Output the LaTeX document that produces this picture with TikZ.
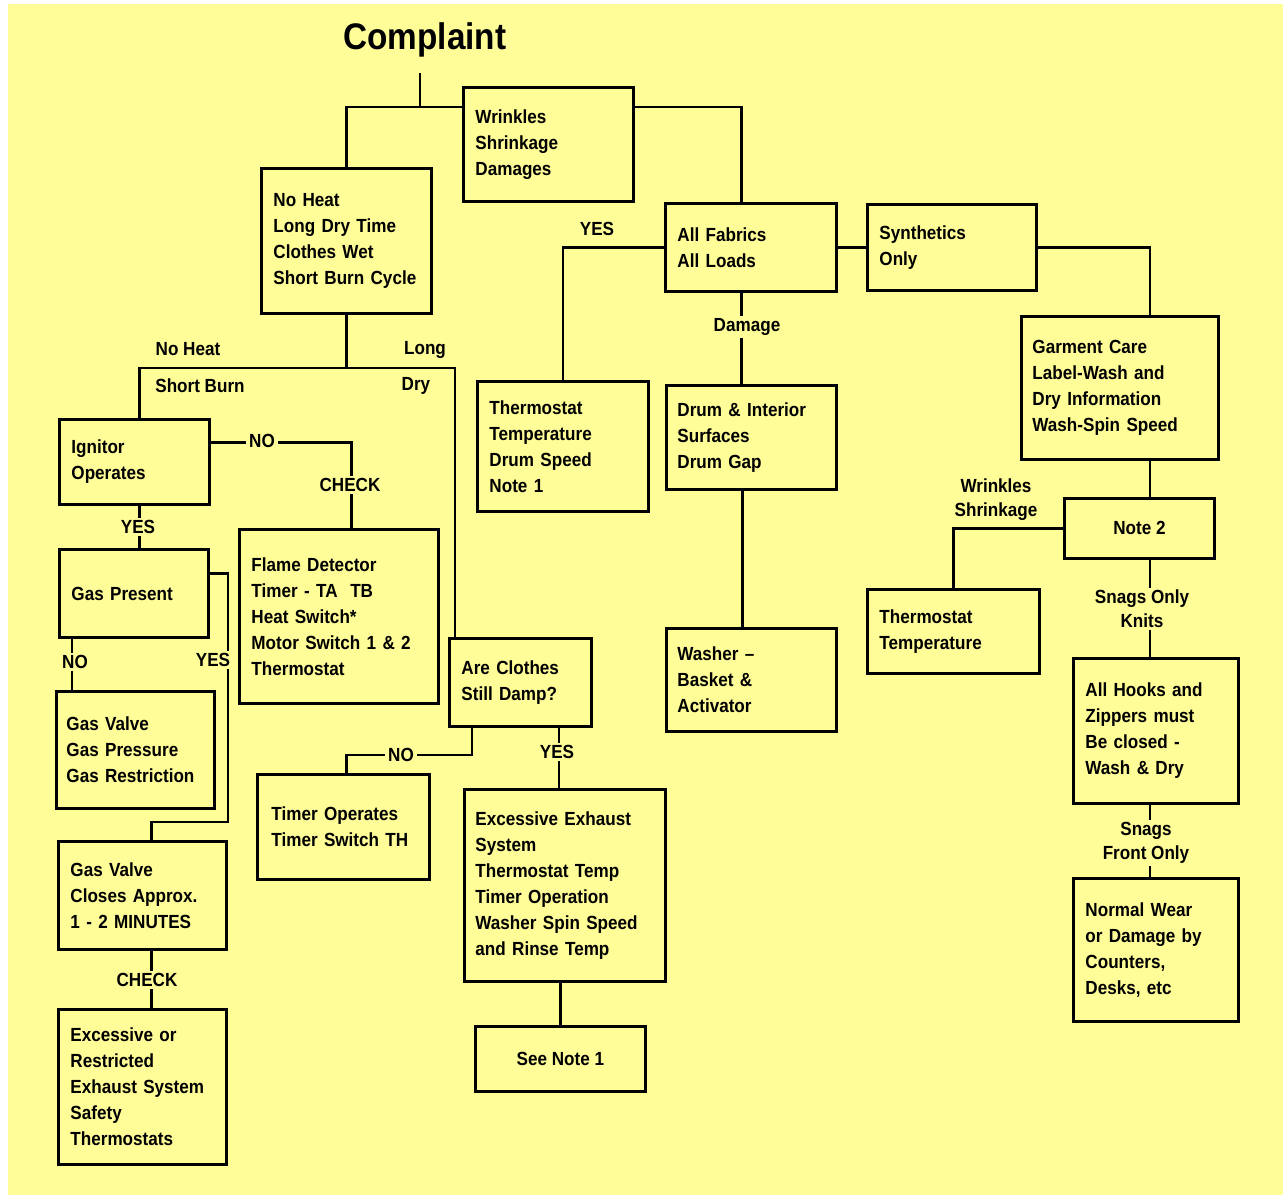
\documentclass[tikz,border=0pt]{standalone}
\usepackage{fontspec}
\setmainfont{Liberation Sans}[FakeStretch=0.9]
\usetikzlibrary{calc}
\definecolor{bg}{RGB}{255,253,152}
\begin{document}
\begin{tikzpicture}[x=1pt,y=-1pt,
  box/.style={draw, line width=2.9pt, anchor=north west, inner xsep=12pt, inner ysep=0pt, align=left, font=\fontsize{19}{26}\selectfont\bfseries},
  cbox/.style={draw, line width=2.9pt, anchor=north west, inner sep=0pt, align=center, font=\fontsize{19}{26}\selectfont\bfseries},
  lbl/.style={fill=bg, inner xsep=3pt, inner ysep=2pt, align=center, font=\fontsize{19}{24}\selectfont\bfseries},
  conn/.style={line width=2.9pt}]
\fill[white] (0,0) rectangle (1285,1197);
\fill[bg] (8,4) rectangle (1283,1195);
\useasboundingbox (0,0) rectangle (1285,1197);

\node[font=\fontsize{37}{42}\selectfont\bfseries] (cp) at (425,40) {Complaint};

\node[box, text width=146pt, minimum height=114pt] (wr) at (462,86) {Wrinkles\\Shrinkage\\Damages};
\node[box, text width=146pt, minimum height=145pt] (nh) at (260,167) {No Heat\\Long Dry Time\\Clothes Wet\\Short Burn Cycle};
\node[box, text width=126pt, minimum height=85pt] (ig) at (58,418) {Ignitor\\Operates};
\node[box, text width=175pt, minimum height=174pt] (fl) at (238,528) {Flame Detector\\Timer - TA\ \ TB\\Heat Switch*\\Motor Switch 1 \& 2\\Thermostat};
\node[box, text width=125pt, minimum height=88pt] (gp) at (58,548) {Gas Present};
\node[box, inner xsep=10pt, text width=138pt, minimum height=117pt] (gv) at (55,690) {Gas Valve\\Gas Pressure\\Gas Restriction};
\node[box, text width=144pt, minimum height=108pt] (gvc) at (57,840) {Gas Valve\\Closes Approx.\\1 - 2 MINUTES};
\node[box, text width=144pt, minimum height=155pt] (ex) at (57,1008) {Excessive or\\Restricted\\Exhaust System\\Safety\\Thermostats};
\node[box, text width=118pt, minimum height=88pt] (ac) at (448,637) {Are Clothes\\Still Damp?};
\node[box, inner xsep=14pt, text width=144pt, minimum height=105pt] (tm) at (256,773) {Timer Operates\\Timer Switch TH};
\node[box, inner xsep=11pt, text width=179pt, minimum height=192pt] (ee) at (463,788) {Excessive Exhaust\\System\\Thermostat Temp\\Timer Operation\\Washer Spin Speed\\and Rinse Temp};
\node[cbox, minimum width=170pt, minimum height=65pt] (sn) at (474,1025) {See Note 1};
\node[box, text width=147pt, minimum height=130pt] (th) at (476,380) {Thermostat\\Temperature\\Drum Speed\\Note 1};
\node[box, text width=147pt, minimum height=88pt] (af) at (664,202) {All Fabrics\\All Loads};
\node[box, inner xsep=11pt, text width=148pt, minimum height=104pt] (dr) at (665,384) {Drum \& Interior\\Surfaces\\Drum Gap};
\node[box, inner xsep=11pt, text width=148pt, minimum height=103pt] (wa) at (665,627) {Washer --\\Basket \&\\Activator};
\node[box, text width=145pt, minimum height=86pt] (sy) at (866,203) {Synthetics\\Only};
\node[box, inner xsep=11pt, text width=175pt, minimum height=143pt] (gc) at (1020,315) {Garment Care\\Label-Wash and\\Dry Information\\Wash-Spin Speed};
\node[cbox, minimum width=150pt, minimum height=60pt] (n2) at (1063,497) {Note 2};
\node[box, text width=148pt, minimum height=84pt] (t2) at (866,588) {Thermostat\\Temperature};
\node[box, text width=141pt, minimum height=145pt] (ah) at (1072,657) {All Hooks and\\Zippers must\\Be closed -\\Wash \& Dry};
\node[box, text width=141pt, minimum height=143pt] (nw) at (1072,877) {Normal Wear\\or Damage by\\Counters,\\Desks, etc};

% junctions and attachment points
\coordinate (j1) at (420,107);
\coordinate (j2) at (343,368);
\coordinate (j3) at (228,822);
\coordinate (j4) at (472,755);
\coordinate (ctop) at ([yshift=-12pt]cp.south -| j1);
\coordinate (afn) at ([xshift=-9.5pt]af.north);
\coordinate (afs) at ([xshift=-9.5pt]af.south);
\coordinate (drs) at ([xshift=-9pt]dr.south);
\coordinate (ign) at ([xshift=5pt]ig.north);
\coordinate (igs) at ([xshift=5pt]ig.south);
\coordinate (ige) at ([yshift=19.5pt]ig.east);
\coordinate (fln) at ([xshift=12.5pt]fl.north);
\coordinate (gps) at ([xshift=14pt]gp.south west);
\coordinate (gpe) at ([yshift=20pt]gp.east);
\coordinate (gvcn) at ([xshift=9pt]gvc.north);
\coordinate (gvcs) at ([xshift=9pt]gvc.south);
\coordinate (acn) at ([xshift=7pt]ac.north west);
\coordinate (acs) at ([xshift=24pt]ac.south west);
\coordinate (tmn) at ([xshift=3pt]tm.north);
\coordinate (een) at ([xshift=-6pt]ee.north);
\coordinate (gcn) at ([xshift=30pt]gc.north);
\coordinate (gcs) at ([xshift=30pt]gc.south);
\coordinate (ahn) at ([xshift=-6pt]ah.north);
\coordinate (nwn) at ([xshift=-6pt]nw.north);

% connectors
\draw[conn] (ctop) -- (j1);
\draw[conn] (nh.north) |- (j1) -- (j1 -| wr.west);
\draw[conn] (j1 -| wr.east) -| (afn);
\draw[conn] (nh.south) -- (nh.south |- j2);
\draw[conn] (ign) |- (j2) -| (acn);
\draw[conn] (ige) -| (fln);
\draw[conn] (igs) -- (igs |- gp.north);
\draw[conn] (gps) -- (gps |- gv.north);
\draw[conn] (gpe) -| (j3) -| (gvcn);
\draw[conn] (gvcs) -- (gvcs |- ex.north);
\draw[conn] (acs) -- (j4) -| (tmn);
\draw[conn] (een) -- (een |- ac.south);
\draw[conn] (sn.north) -- (sn.north |- ee.south);
\draw[conn] (af.west) -| (th.north);
\draw[conn] (afs) -- (afs |- dr.north);
\draw[conn] (drs) -- (drs |- wa.north);
\draw[conn] (af.east) -- (sy.west);
\draw[conn] (sy.east) -| (gcn);
\draw[conn] (gcs) -- (gcs |- n2.north);
\draw[conn] (n2.west) -| (t2.north);
\draw[conn] (ahn) -- (ahn |- n2.south);
\draw[conn] (nwn) -- (nwn |- ah.south);

% labels
\node[lbl] (l1) at (597,229) {YES};
\node[lbl] (l2) at (747,327) {Damage};
\node[lbl] (l3) at (188,349) {No Heat};
\node[lbl] (l4) at (200,386) {Short Burn};
\node[lbl] (l5) at (425,350) {Long};
\node[lbl] (l6) at (416,386) {Dry};
\node[lbl] (l7) at (262,441) {NO};
\node[lbl] (l8) at (350,485) {CHECK};
\node[lbl] (l9) at (138,527) {YES};
\node[lbl] (l10) at (75,662) {NO};
\node[lbl] (l11) at (213,660) {YES};
\node[lbl] (l12) at (147,980) {CHECK};
\node[lbl] (l13) at (401,755) {NO};
\node[lbl] (l14) at (557,752) {YES};
\node[lbl, fill=none] (l15) at (996,500) {Wrinkles\\Shrinkage};
\node[lbl] (l16) at (1142,609) {Snags Only\\Knits};
\node[lbl] (l17) at (1146,843) {Snags\\Front Only};
\end{tikzpicture}
\end{document}
